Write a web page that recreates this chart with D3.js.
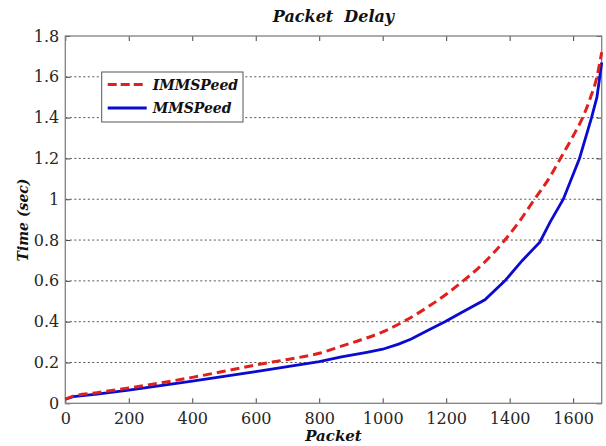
<html>

<head>
  <script src="https://d3js.org/d3.v7.min.js"></script>
  <style>
    body {
      margin: 0;
      background-color: white;
    }

    text {
      font-family: "DejaVu Serif", serif;
    }

    .label {
      font-weight: bold;
      font-style: italic;
    }
  </style>
</head>

<body>
  <div id="chart"></div>
</body>

<script>
  // Data (packet index vs delay in sec)
  var immspeedX = [0, 25, 100, 200, 300, 400, 500, 600, 700, 800, 870, 930, 1000, 1065, 1150, 1254, 1320, 1385, 1430, 1474, 1527, 1560, 1600, 1630, 1655, 1675, 1690];
  var immspeedY = [0.02, 0.035, 0.052, 0.075, 0.1, 0.127, 0.157, 0.188, 0.215, 0.245, 0.28, 0.31, 0.35, 0.4, 0.48, 0.6, 0.69, 0.8, 0.89, 0.99, 1.11, 1.2, 1.31, 1.4, 1.5, 1.6, 1.72];

  var mmspeedX = [0, 25, 100, 200, 300, 400, 500, 600, 700, 800, 870, 950, 1000, 1050, 1090, 1140, 1196, 1260, 1322, 1385, 1440, 1495, 1527, 1569, 1620, 1658, 1675, 1684, 1690];
  var mmspeedY = [0.02, 0.033, 0.045, 0.065, 0.087, 0.109, 0.132, 0.155, 0.18, 0.204, 0.228, 0.25, 0.265, 0.29, 0.315, 0.355, 0.4, 0.455, 0.507, 0.6, 0.7, 0.79, 0.887, 1.0, 1.2, 1.4, 1.5, 1.6, 1.67];

  var xTicks = [0, 200, 400, 600, 800, 1000, 1200, 1400, 1600];
  var yTicks = [0, 0.2, 0.4, 0.6, 0.8, 1, 1.2, 1.4, 1.6, 1.8];
  var seriesNames = ["IMMSPeed", "MMSPeed"];

  var width = 606, height = 446;
  var margin = {top: 36, right: 4.3, bottom: 42.7, left: 65.3};
  var plotW = width - margin.left - margin.right,
      plotH = height - margin.top - margin.bottom;

  var svg = d3.select("#chart").append("svg")
    .attr("width", width).attr("height", height);

  var x = d3.scaleLinear().domain([0, 1690]).range([0, plotW]);
  var y = d3.scaleLinear().domain([0, 1.8]).range([plotH, 0]);

  var g = svg.append("g").attr("transform", "translate(" + margin.left + "," + margin.top + ")");

  // dotted horizontal grid
  g.selectAll(".grid").data(yTicks.slice(1, -1)).enter().append("line")
    .attr("x1", 0).attr("x2", plotW)
    .attr("y1", function(d) { return y(d); }).attr("y2", function(d) { return y(d); })
    .attr("stroke", "#555").attr("stroke-width", 1).attr("stroke-dasharray", "2,2.5");

  // axes (ticks pointing inward)
  var xAxis = g.append("g").attr("transform", "translate(0," + plotH + ")")
    .call(d3.axisBottom(x).tickValues(xTicks).tickSizeInner(-5).tickSizeOuter(0).tickPadding(9)
      .tickFormat(d3.format("d")));
  var xTop = g.append("g")
    .call(d3.axisTop(x).tickValues(xTicks).tickSizeInner(-5).tickSizeOuter(0).tickFormat(""));
  var yAxis = g.append("g")
    .call(d3.axisLeft(y).tickValues(yTicks).tickSizeInner(-5).tickSizeOuter(0).tickPadding(6)
      .tickFormat(function(d) { return String(+d.toFixed(1)); }));
  var yRight = g.append("g").attr("transform", "translate(" + plotW + ",0)")
    .call(d3.axisRight(y).tickValues(yTicks).tickSizeInner(-5).tickSizeOuter(0).tickFormat(""));

  [xAxis, xTop, yAxis, yRight].forEach(function(a) {
    a.select(".domain").remove();
    a.selectAll(".tick line").attr("stroke", "#444");
    a.selectAll("text").attr("font-size", "16px").attr("fill", "#262626")
      .style("font-family", "DejaVu Serif");
  });

  // plot box
  g.append("rect").attr("width", plotW).attr("height", plotH)
    .attr("fill", "none").attr("stroke", "#808080").attr("stroke-width", 1.3);

  // lines
  var line = d3.line()
    .x(function(d) { return x(d[0]); })
    .y(function(d) { return y(d[1]); });

  g.append("path").datum(d3.zip(mmspeedX, mmspeedY))
    .attr("d", line).attr("fill", "none")
    .attr("stroke", "#0a0ad0").attr("stroke-width", 2.8);

  g.append("path").datum(d3.zip(immspeedX, immspeedY))
    .attr("d", line.curve(d3.curveMonotoneX)).attr("fill", "none")
    .attr("stroke", "#e0201c").attr("stroke-width", 3).attr("stroke-dasharray", "9,5");

  // legend
  var legend = svg.append("g").attr("transform", "translate(101.7,72)");
  legend.append("rect").attr("width", 141.3).attr("height", 50)
    .attr("fill", "white").attr("stroke", "#555").attr("stroke-width", 1);

  var legendStyles = [
    {color: "#e0201c", dash: "9,4"},
    {color: "#0a0ad0", dash: null}
  ];
  seriesNames.forEach(function(name, i) {
    var ly = 12.5 + i * 23.5;
    legend.append("line").attr("x1", 6).attr("x2", 45).attr("y1", ly).attr("y2", ly)
      .attr("stroke", legendStyles[i].color).attr("stroke-width", 3)
      .attr("stroke-dasharray", legendStyles[i].dash);
    legend.append("text").attr("class", "label").attr("x", 51).attr("y", ly + 5)
      .attr("font-size", "14px").attr("fill", "#111").text(name);
  });

  // titles
  svg.append("text").attr("class", "label")
    .attr("x", margin.left + plotW / 2).attr("y", 22)
    .attr("text-anchor", "middle").attr("font-size", "16px").attr("fill", "#111")
    .style("white-space", "pre").text("Packet  Delay");

  svg.append("text").attr("class", "label")
    .attr("x", margin.left + plotW / 2).attr("y", 441)
    .attr("text-anchor", "middle").attr("font-size", "15px").attr("fill", "#111")
    .text("Packet");

  svg.append("text").attr("class", "label")
    .attr("transform", "translate(28,220) rotate(-90)")
    .attr("text-anchor", "middle").attr("font-size", "14px").attr("fill", "#111")
    .text("Time (sec)");
</script>

</html>
